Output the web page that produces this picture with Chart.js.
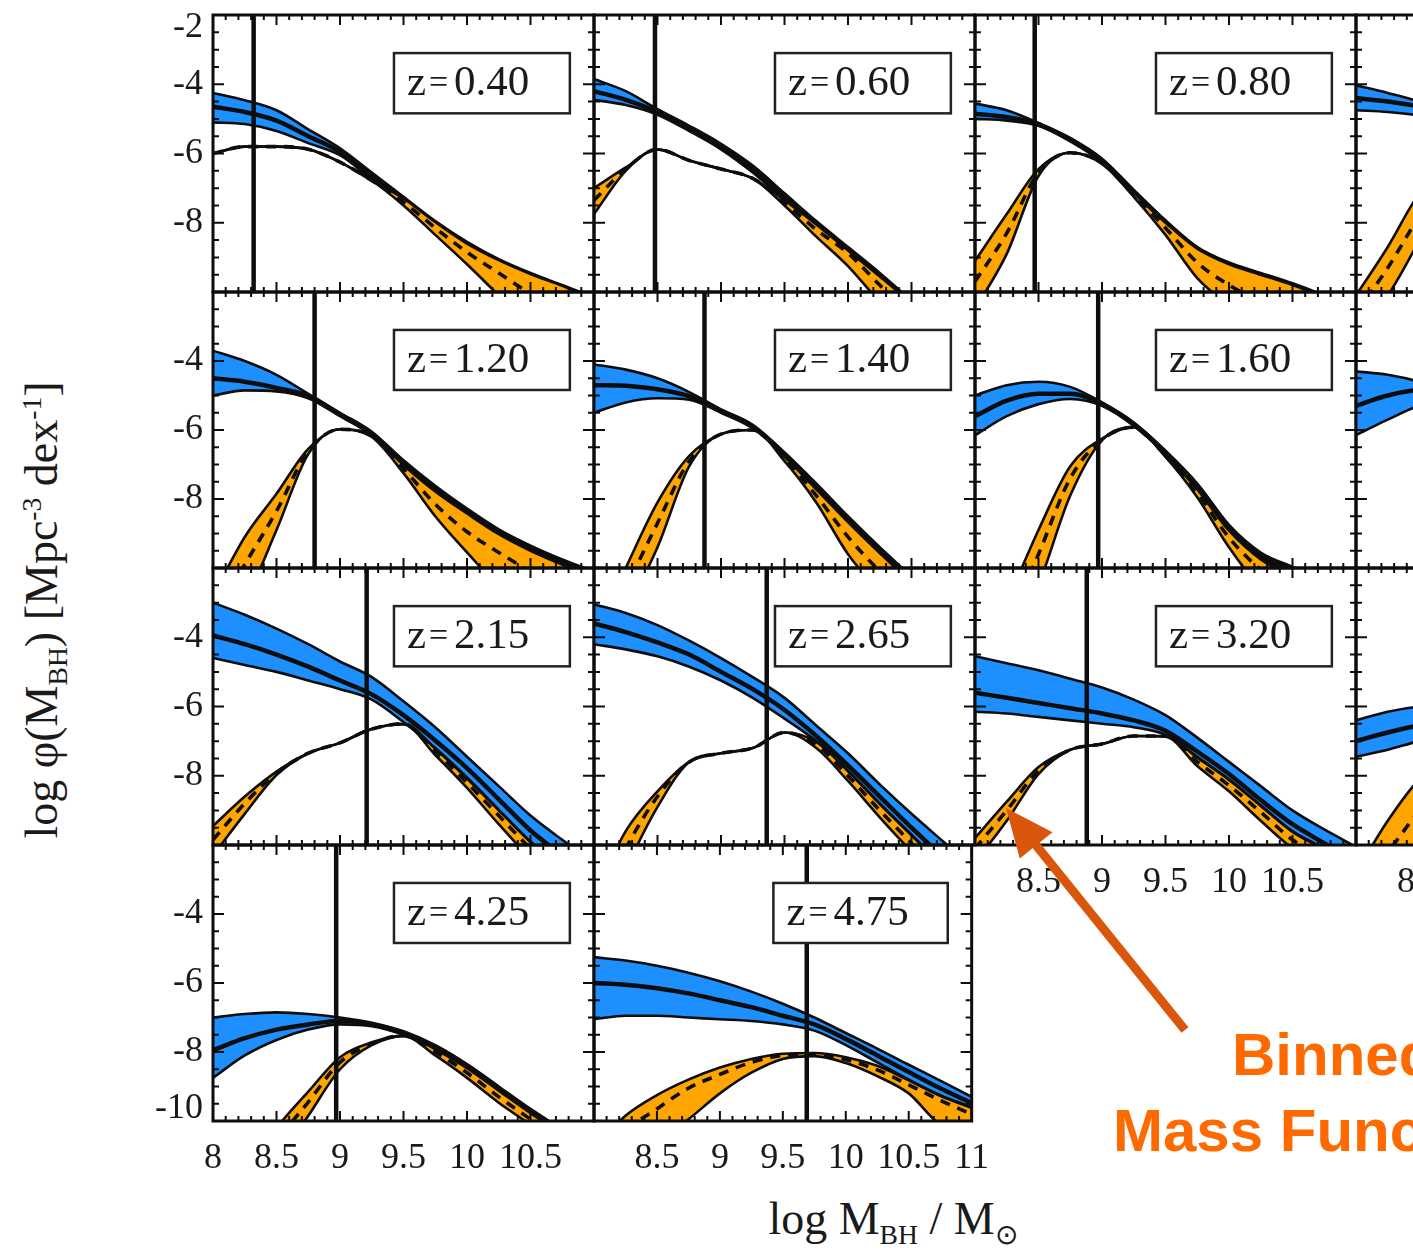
<!DOCTYPE html>
<html>
<head>
<meta charset="utf-8">
<title>Black hole mass functions</title>
<script src="https://cdn.jsdelivr.net/npm/chart.js@4.4.1/dist/chart.umd.min.js"></script>
<style>
  body { margin: 0; background: #fff; }
  #figure { position: relative; width: 1413px; height: 1251px; overflow: hidden;
            font-family: "Liberation Serif", "Times New Roman", serif; color: #1a1a1a; }
  #figure canvas { position: absolute; }
  .axis-title { position: absolute; white-space: nowrap; font-size: 46px; line-height: 1; }
  .axis-title sub, .axis-title sup { font-size: 0.6em; }
  #yTitle { left: 45px; top: 610px; transform: translate(-50%, -50%) rotate(-90deg); }
  #xTitle { left: 893px; top: 1222px; transform: translate(-50%, -50%); }
  .note { position: absolute; font-family: "Liberation Sans", Arial, sans-serif; font-weight: bold;
          font-size: 60px; color: #ff6a00; white-space: nowrap; line-height: 1; }
</style>
</head>
<body>
<div id="figure">
  <div id="yTitle" class="axis-title">log &phi;(M<sub>BH</sub>) [Mpc<sup>-3</sup> dex<sup>-1</sup>]</div>
  <div id="xTitle" class="axis-title">log M<sub>BH</sub> / M<sub>&#8857;</sub></div>
</div>
<script>
// log M_BH grid shared by every panel
const massGrid = [8, 8.25, 8.5, 8.75, 9, 9.25, 9.5, 9.75, 10, 10.25, 10.5, 10.75, 11];

const redshifts = ['0.40', '0.60', '0.80', '1.00', '1.20', '1.40', '1.60', '1.80',
                   '2.15', '2.65', '3.20', '3.75', '4.25', '4.75'];

// vertical line (mass limit) in each panel
const massLimit = [8.32, 8.48, 8.47, 8.6, 8.8, 8.87, 8.97, 9.0, 9.21, 9.36, 8.88, 8.9, 8.97, 9.69];

// total BH mass function (blue band + median)
const totalUpper = [
  [-4.25, -4.46, -4.75, -5.3, -5.85, -6.55, -7.25, -7.95, -8.55, -9.05, -9.45, -9.8, -10.15],
  [-3.85, -4.2, -4.72, -5.2, -5.72, -6.35, -7.15, -7.95, -8.7, -9.45, -10.25, -11.0, -11.8],
  [-4.56, -4.75, -5.12, -5.55, -6.15, -7.05, -7.93, -8.7, -9.15, -9.45, -9.75, -10.1, -10.5],
  [-4.03, -4.25, -4.5, -4.85, -5.4, -6.1, -6.9, -7.7, -8.4, -9.0, -9.5, -9.9, -10.3],
  [-3.7, -4.0, -4.4, -4.95, -5.5, -6.05, -6.88, -7.62, -8.28, -8.88, -9.35, -9.75, -10.1],
  [-4.1, -4.25, -4.5, -4.9, -5.4, -5.85, -6.65, -7.55, -8.5, -9.4, -10.25, -11.1, -11.9],
  [-5.0, -4.7, -4.6, -4.75, -5.2, -5.78, -6.6, -7.55, -8.75, -9.55, -9.97, -10.4, -10.9],
  [-4.3, -4.4, -4.6, -4.9, -5.3, -5.8, -6.5, -7.3, -8.2, -9.0, -9.6, -10.1, -10.6],
  [-3.0, -3.35, -3.75, -4.2, -4.7, -5.15, -5.85, -6.6, -7.45, -8.3, -9.15, -9.85, -10.5],
  [-3.05, -3.3, -3.65, -4.1, -4.6, -5.15, -5.75, -6.55, -7.35, -8.25, -9.1, -9.9, -10.7],
  [-4.55, -4.75, -4.95, -5.2, -5.45, -5.8, -6.25, -6.9, -7.6, -8.3, -9.0, -9.55, -10.05],
  [-6.4, -6.15, -6.0, -5.95, -5.95, -6.05, -6.3, -6.7, -7.2, -7.8, -8.45, -9.1, -9.8],
  [-7.0, -6.9, -6.85, -6.9, -7.0, -7.15, -7.4, -7.8, -8.35, -9.0, -9.65, -10.25, -10.85],
  [-5.25, -5.35, -5.5, -5.7, -5.95, -6.25, -6.6, -7.0, -7.45, -7.9, -8.37, -8.83, -9.3]
];
const totalMedian = [
  [-4.65, -4.8, -5.05, -5.5, -5.95, -6.65, -7.35, -8.05, -8.65, -9.15, -9.55, -9.9, -10.25],
  [-4.2, -4.45, -4.8, -5.28, -5.8, -6.45, -7.25, -8.05, -8.8, -9.55, -10.35, -11.1, -11.9],
  [-4.85, -4.95, -5.16, -5.6, -6.2, -7.1, -7.98, -8.75, -9.2, -9.5, -9.8, -10.15, -10.55],
  [-4.4, -4.5, -4.65, -4.95, -5.45, -6.15, -6.95, -7.75, -8.45, -9.05, -9.55, -9.95, -10.35],
  [-4.5, -4.6, -4.78, -5.02, -5.55, -6.1, -6.94, -7.7, -8.35, -8.95, -9.42, -9.82, -10.15],
  [-4.7, -4.72, -4.82, -5.02, -5.45, -5.9, -6.7, -7.62, -8.57, -9.47, -10.3, -11.15, -11.95],
  [-5.6, -5.15, -4.95, -4.95, -5.25, -5.83, -6.65, -7.62, -8.82, -9.62, -10.05, -10.5, -11.0],
  [-5.3, -5.0, -4.85, -5.0, -5.35, -5.85, -6.55, -7.35, -8.25, -9.05, -9.65, -10.15, -10.65],
  [-3.95, -4.2, -4.5, -4.85, -5.25, -5.65, -6.25, -6.98, -7.78, -8.68, -9.58, -10.3, -11.0],
  [-3.6, -3.85, -4.15, -4.5, -5.0, -5.5, -6.1, -6.85, -7.7, -8.6, -9.5, -10.35, -11.15],
  [-5.6, -5.75, -5.9, -6.05, -6.2, -6.4, -6.7, -7.3, -7.95, -8.7, -9.4, -9.95, -10.5],
  [-7.0, -6.75, -6.55, -6.45, -6.4, -6.45, -6.6, -6.9, -7.35, -7.95, -8.6, -9.25, -9.95],
  [-7.95, -7.6, -7.35, -7.2, -7.1, -7.2, -7.45, -7.85, -8.4, -9.05, -9.7, -10.3, -10.9],
  [-6.0, -6.05, -6.15, -6.3, -6.5, -6.7, -6.95, -7.2, -7.62, -8.1, -8.58, -9.05, -9.48]
];
const totalLower = [
  [-5.1, -5.15, -5.35, -5.7, -6.05, -6.75, -7.45, -8.15, -8.75, -9.25, -9.65, -10.0, -10.35],
  [-4.45, -4.6, -4.88, -5.35, -5.88, -6.55, -7.35, -8.15, -8.9, -9.65, -10.45, -11.2, -12.0],
  [-5.0, -5.05, -5.2, -5.65, -6.25, -7.15, -8.03, -8.8, -9.25, -9.55, -9.85, -10.2, -10.6],
  [-4.75, -4.8, -4.9, -5.05, -5.5, -6.2, -7.0, -7.8, -8.5, -9.1, -9.6, -10.0, -10.4],
  [-5.0, -4.85, -4.88, -5.08, -5.6, -6.15, -7.0, -7.78, -8.42, -9.02, -9.5, -9.9, -10.2],
  [-5.5, -5.2, -5.08, -5.12, -5.5, -5.95, -6.75, -7.7, -8.65, -9.55, -10.4, -11.2, -12.0],
  [-6.15, -5.6, -5.25, -5.1, -5.3, -5.88, -6.7, -7.7, -8.9, -9.7, -10.15, -10.6, -11.1],
  [-6.15, -5.7, -5.3, -5.15, -5.4, -5.9, -6.6, -7.4, -8.3, -9.1, -9.7, -10.2, -10.7],
  [-4.6, -4.8, -5.0, -5.25, -5.5, -5.8, -6.45, -7.2, -8.05, -8.98, -9.9, -10.65, -11.3],
  [-4.2, -4.35, -4.55, -4.85, -5.25, -5.75, -6.35, -7.0, -7.85, -8.8, -9.7, -10.6, -11.4],
  [-6.15, -6.2, -6.3, -6.4, -6.5, -6.6, -6.82, -7.45, -8.1, -8.85, -9.6, -10.1, -10.6],
  [-7.45, -7.25, -7.0, -6.85, -6.75, -6.75, -6.85, -7.1, -7.5, -8.05, -8.7, -9.35, -10.05],
  [-8.75, -8.1, -7.65, -7.35, -7.2, -7.25, -7.5, -7.9, -8.45, -9.1, -9.75, -10.35, -10.95],
  [-7.05, -6.95, -6.95, -7.0, -7.05, -7.1, -7.2, -7.38, -7.8, -8.3, -8.8, -9.25, -9.6]
];

// active BH mass function (orange band + dashed median)
const activeUpper = [
  [-6.0, -5.8, -5.8, -5.88, -6.25, -6.78, -7.3, -7.98, -8.6, -9.08, -9.48, -9.82, -10.2],
  [-7.0, -6.4, -5.88, -6.2, -6.45, -6.72, -7.35, -8.05, -8.8, -9.55, -10.3, -11.0, -11.8],
  [-9.1, -7.75, -6.45, -5.98, -6.25, -7.15, -8.0, -8.75, -9.2, -9.5, -9.8, -10.15, -10.55],
  [-10.1, -8.7, -7.15, -6.3, -6.05, -6.2, -7.0, -7.8, -8.5, -9.1, -9.6, -10.0, -10.4],
  [-10.8, -9.1, -7.85, -6.55, -5.98, -6.17, -7.02, -7.78, -8.42, -9.02, -9.5, -9.9, -10.25],
  [-12.0, -10.0, -8.1, -6.75, -6.12, -6.0, -6.78, -7.72, -8.67, -9.57, -10.42, -11.22, -12.0],
  [-13.0, -11.0, -8.9, -7.05, -6.25, -5.92, -6.72, -7.72, -8.92, -9.75, -10.25, -10.75, -11.25],
  [-14.0, -12.0, -10.0, -8.0, -6.8, -6.1, -6.62, -7.42, -8.32, -9.12, -9.72, -10.22, -10.72],
  [-9.45, -8.6, -7.88, -7.35, -7.05, -6.65, -6.5, -7.22, -8.08, -9.0, -9.92, -10.67, -11.35],
  [-11.5, -9.6, -8.45, -7.6, -7.35, -7.2, -6.75, -7.02, -7.87, -8.82, -9.72, -10.62, -11.42],
  [-9.8, -8.75, -7.75, -7.25, -7.08, -6.85, -6.85, -7.48, -8.12, -8.87, -9.62, -10.12, -10.62],
  [-10.8, -9.3, -8.1, -7.5, -7.2, -7.05, -7.1, -7.3, -7.65, -8.15, -8.75, -9.4, -10.1],
  [-13.0, -11.5, -10.2, -9.15, -8.15, -7.72, -7.52, -7.92, -8.47, -9.12, -9.77, -10.37, -11.0],
  [-10.8, -9.85, -9.25, -8.8, -8.45, -8.2, -8.05, -8.03, -8.15, -8.4, -8.82, -9.27, -9.62]
];
const activeMedian = [
  [-6.0, -5.8, -5.8, -5.88, -6.25, -6.78, -7.4, -8.15, -8.85, -9.45, -10.05, -10.6, -11.2],
  [-7.35, -6.45, -5.88, -6.2, -6.45, -6.72, -7.42, -8.2, -8.88, -9.8, -10.7, -11.5, -12.3],
  [-9.7, -8.3, -6.55, -5.98, -6.28, -7.2, -8.15, -9.15, -9.8, -10.3, -10.8, -11.3, -11.8],
  [-10.6, -9.3, -7.8, -6.55, -6.1, -6.25, -7.1, -8.0, -8.8, -9.5, -10.1, -10.7, -11.3],
  [-11.5, -9.9, -8.35, -6.62, -5.98, -6.18, -7.12, -8.15, -8.95, -9.55, -10.1, -10.6, -11.1],
  [-12.6, -10.6, -8.7, -6.9, -6.12, -6.0, -6.82, -7.9, -9.1, -10.1, -11.0, -11.9, -12.8],
  [-13.5, -11.7, -9.6, -7.4, -6.28, -5.92, -6.75, -7.82, -9.12, -10.05, -10.7, -11.3, -11.9],
  [-14.5, -12.6, -10.6, -8.5, -7.1, -6.2, -6.7, -7.6, -8.6, -9.5, -10.2, -10.8, -11.4],
  [-9.85, -8.8, -7.92, -7.35, -7.05, -6.65, -6.5, -7.3, -8.2, -9.15, -10.1, -10.9, -11.6],
  [-12.0, -10.1, -8.6, -7.6, -7.35, -7.2, -6.75, -7.1, -8.0, -9.0, -9.95, -10.9, -11.8],
  [-10.1, -9.0, -7.85, -7.25, -7.08, -6.85, -6.85, -7.6, -8.28, -9.05, -9.85, -10.4, -10.9],
  [-11.2, -10.2, -9.0, -8.0, -7.4, -7.15, -7.15, -7.4, -7.8, -8.35, -9.0, -9.7, -10.4],
  [-13.5, -12.0, -10.6, -9.45, -8.3, -7.76, -7.52, -8.0, -8.6, -9.3, -9.95, -10.6, -11.3],
  [-11.5, -10.3, -9.65, -9.05, -8.65, -8.3, -8.1, -8.06, -8.22, -8.52, -8.95, -9.4, -9.8]
];
const activeLower = [
  [-6.0, -5.8, -5.8, -5.88, -6.25, -6.78, -7.5, -8.35, -9.2, -10.1, -11.0, -11.8, -12.6],
  [-7.75, -6.5, -5.88, -6.2, -6.45, -6.72, -7.5, -8.4, -9.25, -10.3, -11.3, -12.2, -13.0],
  [-10.5, -8.9, -6.65, -5.98, -6.3, -7.25, -8.35, -9.6, -10.4, -11.2, -12.0, -12.8, -13.5],
  [-11.2, -10.1, -8.5, -6.8, -6.15, -6.3, -7.2, -8.2, -9.1, -9.9, -10.6, -11.4, -12.2],
  [-12.5, -11.0, -8.9, -6.7, -5.98, -6.2, -7.25, -8.5, -9.55, -10.55, -11.5, -12.3, -13.0],
  [-13.2, -11.3, -9.4, -7.05, -6.12, -6.0, -6.9, -8.1, -9.6, -10.7, -11.8, -12.8, -13.8],
  [-14.0, -12.5, -10.5, -7.9, -6.3, -5.92, -6.78, -7.95, -9.4, -10.6, -11.5, -12.3, -13.0],
  [-15.0, -13.2, -11.2, -9.0, -7.4, -6.3, -6.8, -7.8, -8.9, -9.9, -10.7, -11.4, -12.1],
  [-10.3, -9.1, -7.98, -7.35, -7.05, -6.65, -6.52, -7.4, -8.35, -9.4, -10.4, -11.3, -12.0],
  [-12.8, -10.7, -8.9, -7.6, -7.35, -7.2, -6.75, -7.2, -8.15, -9.2, -10.2, -11.2, -12.1],
  [-10.5, -9.3, -7.95, -7.25, -7.08, -6.85, -6.87, -7.72, -8.45, -9.3, -10.1, -10.7, -11.2],
  [-11.6, -11.0, -10.0, -8.5, -7.6, -7.25, -7.2, -7.5, -7.95, -8.55, -9.25, -10.0, -10.7],
  [-14.0, -12.6, -11.2, -9.85, -8.5, -7.8, -7.54, -8.1, -8.75, -9.47, -10.12, -10.9, -11.6],
  [-12.5, -11.3, -10.6, -9.95, -9.2, -8.6, -8.2, -8.12, -8.32, -8.7, -9.2, -10.1, -10.3]
];

// tick labels that are printed (by panel index)
const yTickLabels = { 0: [-2, -4, -6, -8], 4: [-4, -6, -8], 8: [-4, -6, -8], 12: [-4, -6, -8, -10] };
const xTickLabels = {
  10: [8.5, 9, 9.5, 10, 10.5], 11: [8.5, 9, 9.5, 10, 10.5],
  12: [8, 8.5, 9, 9.5, 10, 10.5], 13: [8.5, 9, 9.5, 10, 10.5, 11]
};

const BLUE = '#1e8fff';
const ORANGE = '#ffa500';
const INK = '#0d0d0d';
const colLeft = [213, 594, 975, 1356];
const rowEdges = [15, 292, 568, 845, 1121];
const PAD = { left: 80, top: 40, right: 30, bottom: 70 };

Chart.defaults.font.family = '"Liberation Serif", "Times New Roman", serif';
Chart.defaults.color = '#1a1a1a';

function pickLabel(list, v) {
  if (!list) return '';
  const hit = list.find(t => Math.abs(t - v) < 1e-6);
  return hit === undefined ? '' : String(hit);
}

// end labels of the y axis sit just inside the frame
function yLabel(list, v) {
  const s = pickLabel(list, v);
  if (s === '-2') return ['', s];
  if (s === '-10') return [s, ''];
  return s;
}

function series(values) {
  return massGrid.map((m, i) => ({ x: m, y: values[i] }));
}

function edge(values, extra) {
  return Object.assign({
    data: series(values), borderColor: INK, borderWidth: 2.6, pointRadius: 0,
    fill: false, cubicInterpolationMode: 'monotone', clip: 0
  }, extra);
}

// frame, inward ticks and the redshift box
const panelDecor = {
  id: 'panelDecor',
  afterDraw(chart, args, opts) {
    const { ctx, chartArea: a, scales: { x, y } } = chart;
    ctx.save();

    // redshift label box
    const bx0 = x.getPixelForValue(9.425), bx1 = x.getPixelForValue(10.81);
    const by0 = y.getPixelForValue(-3.1), by1 = y.getPixelForValue(-4.84);
    ctx.fillStyle = '#fff';
    ctx.fillRect(bx0, by0, bx1 - bx0, by1 - by0);
    ctx.lineWidth = 2.5;
    ctx.strokeStyle = '#222';
    ctx.strokeRect(bx0, by0, bx1 - bx0, by1 - by0);
    ctx.fillStyle = '#1a1a1a';
    ctx.textBaseline = 'alphabetic';
    const ty = by0 + 42;
    ctx.font = '43px "Liberation Serif", serif';
    ctx.fillText('z', bx0 + 13, ty);
    ctx.fillText(opts.z, bx0 + 60, ty);
    ctx.font = '34px "Liberation Serif", serif';
    ctx.fillText('=', bx0 + 35, ty - 2);

    // ticks
    ctx.strokeStyle = INK;
    ctx.lineWidth = 2;
    ctx.beginPath();
    for (let i = 0; i <= 30; i++) {
      const px = x.getPixelForValue(8 + i * 0.1);
      const len = i % 5 === 0 ? 10 : 5;
      ctx.moveTo(px, a.bottom); ctx.lineTo(px, a.bottom - len);
      ctx.moveTo(px, a.top); ctx.lineTo(px, a.top + len);
    }
    for (let i = 0; i <= 16; i++) {
      const py = y.getPixelForValue(-10 + i * 0.5);
      const len = i % 4 === 0 ? 11 : 6;
      ctx.moveTo(a.left, py); ctx.lineTo(a.left + len, py);
      ctx.moveTo(a.right, py); ctx.lineTo(a.right - len, py);
    }
    ctx.stroke();

    // frame
    ctx.lineWidth = 3;
    ctx.strokeRect(a.left, a.top, a.right - a.left, a.bottom - a.top);
    ctx.restore();
  }
};

const figure = document.getElementById('figure');

redshifts.forEach((z, p) => {
  const row = Math.floor(p / 4), col = p % 4;
  const h = rowEdges[row + 1] - rowEdges[row];
  const canvas = document.createElement('canvas');
  canvas.width = PAD.left + 381 + PAD.right;
  canvas.height = PAD.top + h + PAD.bottom;
  canvas.style.left = (colLeft[col] - PAD.left) + 'px';
  canvas.style.top = (rowEdges[row] - PAD.top) + 'px';
  figure.appendChild(canvas);

  const lim = massLimit[p];
  new Chart(canvas, {
    type: 'line',
    data: {
      datasets: [
        { data: [{ x: lim, y: -10 }, { x: lim, y: -2 }], borderColor: INK, borderWidth: 4.5, pointRadius: 0, clip: 0 },
        edge(activeMedian[p], { borderDash: [10, 8], borderWidth: 3.6 }),
        edge(activeUpper[p]),
        edge(activeLower[p], { fill: '-1', backgroundColor: ORANGE }),
        edge(totalMedian[p], { borderWidth: 4.5 }),
        edge(totalUpper[p]),
        edge(totalLower[p], { fill: '-1', backgroundColor: BLUE })
      ]
    },
    options: {
      responsive: false,
      animation: false,
      devicePixelRatio: 1,
      layout: { padding: { left: 0, top: PAD.top, right: PAD.right, bottom: 0 } },
      plugins: {
        legend: { display: false },
        tooltip: { enabled: false },
        panelDecor: { z: z }
      },
      scales: {
        x: {
          type: 'linear', min: 8, max: 11,
          afterFit: s => { s.height = PAD.bottom; },
          grid: { display: false, drawTicks: false },
          border: { display: false },
          ticks: {
            stepSize: 0.5, autoSkip: false, maxRotation: 0, minRotation: 0, padding: 16,
            font: { size: 36 },
            callback: v => pickLabel(xTickLabels[p], v)
          }
        },
        y: {
          type: 'linear', min: -10, max: -2,
          afterFit: s => { s.width = PAD.left; },
          grid: { display: false, drawTicks: false },
          border: { display: false },
          ticks: {
            stepSize: 2, padding: 10,
            font: { size: 36, lineHeight: 0.7 },
            callback: v => yLabel(yTickLabels[p], v)
          }
        }
      }
    },
    plugins: [panelDecor]
  });
});

// orange annotation arrow and text
const arrowCanvas = document.createElement('canvas');
arrowCanvas.width = 1413;
arrowCanvas.height = 1251;
arrowCanvas.style.left = '0px';
arrowCanvas.style.top = '0px';
figure.appendChild(arrowCanvas);
(function drawArrow() {
  const ctx = arrowCanvas.getContext('2d');
  const tail = [1185, 1030], tip = [1006, 808];
  const dx = tip[0] - tail[0], dy = tip[1] - tail[1];
  const len = Math.hypot(dx, dy), ux = dx / len, uy = dy / len;
  const headLen = 48, headHalf = 21;
  const bx = tip[0] - ux * headLen, by = tip[1] - uy * headLen;
  ctx.strokeStyle = ctx.fillStyle = '#d9560a';
  ctx.lineWidth = 9;
  ctx.beginPath();
  ctx.moveTo(tail[0], tail[1]);
  ctx.lineTo(bx + ux * 4, by + uy * 4);
  ctx.stroke();
  ctx.beginPath();
  ctx.moveTo(tip[0], tip[1]);
  ctx.lineTo(bx - uy * headHalf, by + ux * headHalf);
  ctx.lineTo(bx + uy * headHalf, by - ux * headHalf);
  ctx.closePath();
  ctx.fill();
})();

[['Binned Black Hole', 1232, 1025], ['Mass Function', 1113, 1101]].forEach(([t, l, tp]) => {
  const d = document.createElement('div');
  d.className = 'note';
  d.textContent = t;
  d.style.left = l + 'px';
  d.style.top = tp + 'px';
  figure.appendChild(d);
});
</script>
</body>
</html>
